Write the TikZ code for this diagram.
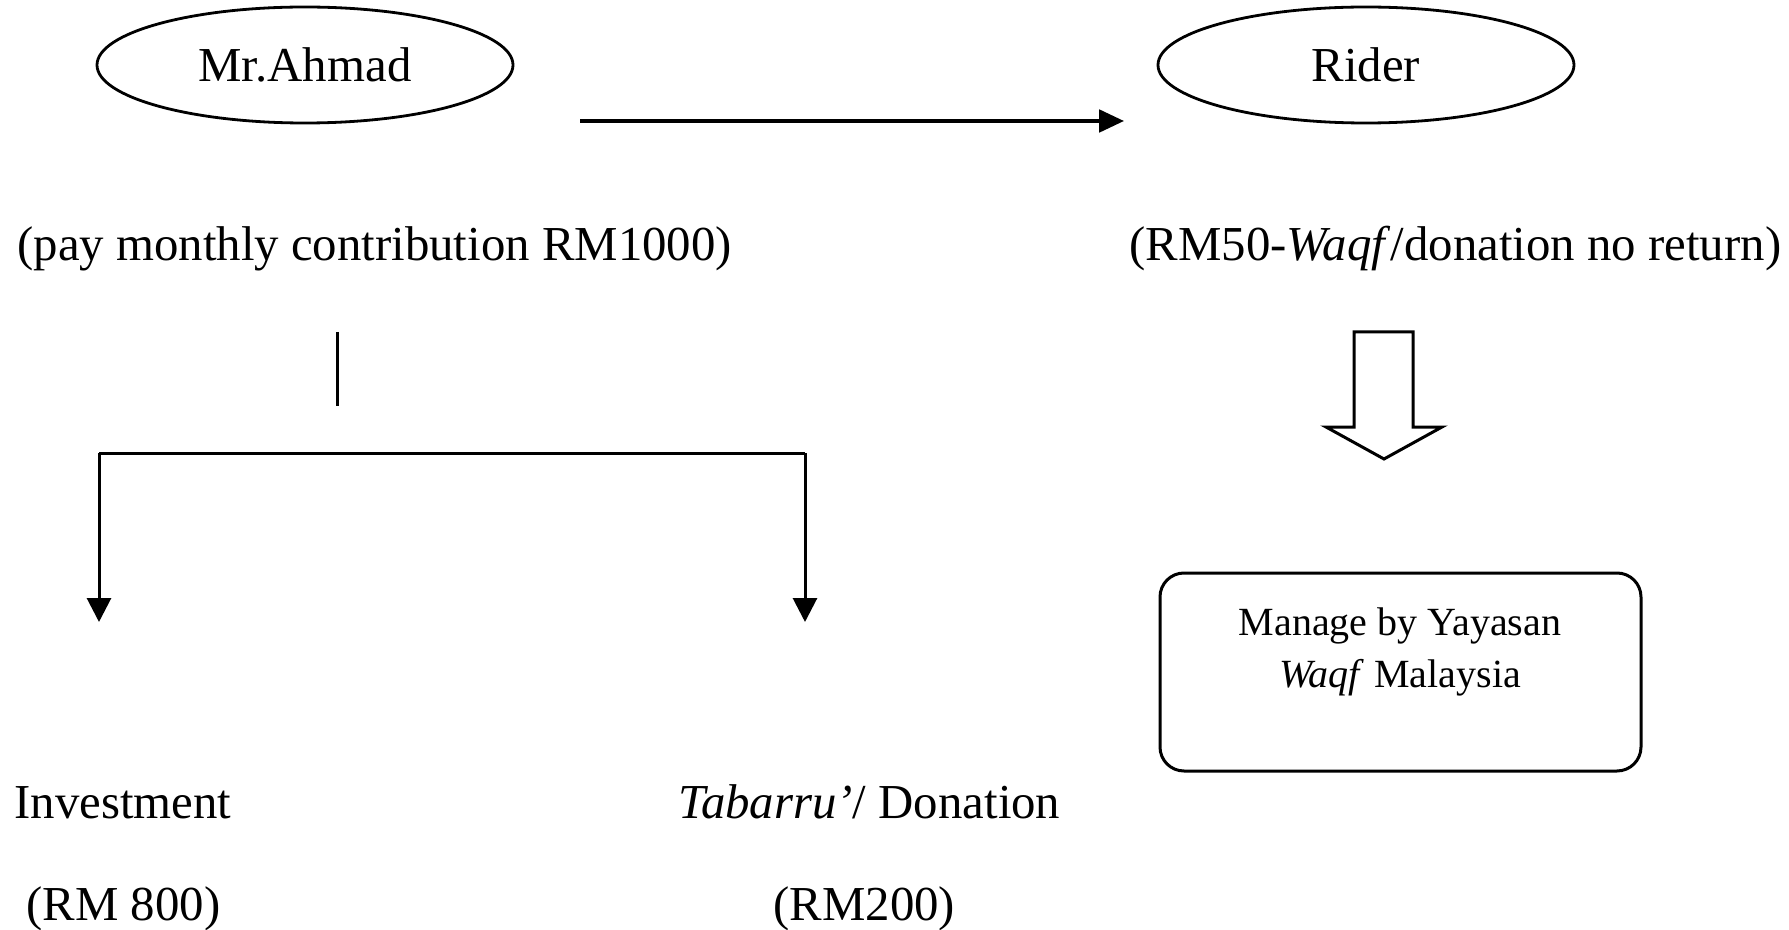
\documentclass[tikz,border=0pt]{standalone}
\usepackage{fontspec}
\setmainfont{Liberation Serif}
\usetikzlibrary{shapes.geometric,arrows.meta}

\begin{document}
\begin{tikzpicture}[x=0.25pt,y=-0.25pt,line width=0.75pt]
\tikzstyle{every node}+=[inner sep=0pt]
\tikzstyle{oval}=[draw,ellipse,line width=0.7pt,minimum width=104pt,minimum height=29pt,font=\fontsize{12.2}{14.6}\selectfont]
\tikzstyle{txt}=[anchor=base west,font=\fontsize{12.2}{14.6}\selectfont]
\tikzstyle{tip}=[-{Triangle[length=6pt,width=6pt]}]
\useasboundingbox (0,0) rectangle (1789,930);
% top row
\node [oval] (ahmad) at (305,65) {Mr.Ahmad};
\node [oval] (rider) at (1366,65) {Rider};
\coordinate (paystart) at (580,121);
\coordinate (riderend) at (1124,121);
\draw [line width=0.9pt,-{Triangle[length=6.2pt,width=5.6pt]}] (paystart) -- (riderend);
\node [txt] (pay) at (16,261) {(pay monthly contribution RM1000)};
\node [txt] (waqf) at (1128,261) {(RM50-\textit{Waqf}/donation no return)};
% split
\coordinate (stemtop) at (337,332);
\coordinate (stembot) at (337,406);
\coordinate (branchL) at (99,453);
\coordinate (branchR) at (805,453);
\coordinate (investtip) at (99,622);
\coordinate (tabarrutip) at (805,622);
\draw (stemtop) -- (stembot);
\draw (branchL) -- (branchR);
\draw [tip] (branchL) -- (investtip);
\draw [tip] (branchR) -- (tabarrutip);
\node [txt] (invest) at (13,818) {Investment};
\node [txt] (tabarru) at (677,818) {\textit{Tabarru'}/ Donation};
\node [txt] (rm800) at (25,920) {(RM 800)};
\node [txt] (rm200) at (772,920) {(RM200)};
% block arrow
\draw [line join=miter] (1354,332) -- (1413,332) -- (1413,427) -- (1442,427) -- (1384,459)
  -- (1326,427) -- (1354,427) -- cycle;
% yayasan box
\draw [rounded corners=6pt] (1160,573) rectangle (1641,771);
\node [anchor=north,align=center,font=\fontsize{10}{13}\selectfont] (yayasan) at (1400,606)
  {Manage by Yayasan\\\textit{Waqf} Malaysia};
\end{tikzpicture}
\end{document}
